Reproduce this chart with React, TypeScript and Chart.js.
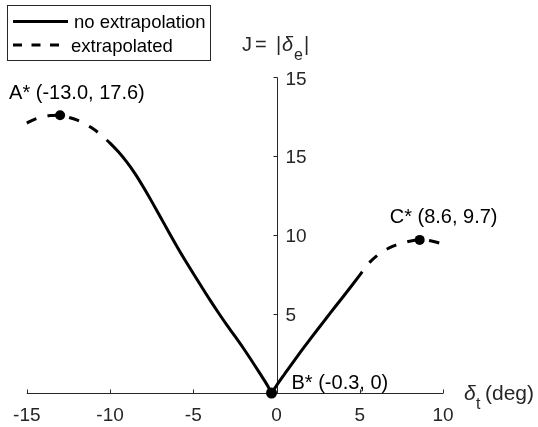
import React, { useEffect, useRef } from 'react';
import { Chart, registerables } from 'chart.js';

Chart.register(...registerables);

// ---- data ----
const leftDashX = [-15, -14.5, -14, -13.5, -13, -12.5, -12, -11.5, -11, -10.5, -10.2];
const leftDashY = [17.1, 17.35, 17.52, 17.58, 17.6, 17.47, 17.3, 17.05, 16.72, 16.32, 16.03];
const leftSolidX = [-10.2, -10, -9.5, -9, -8.5, -8, -7.5, -7, -6.5, -6, -5.5, -5, -4.5, -4, -3.5, -3, -2.5, -2, -1.5, -1, -0.5, -0.3];
const leftSolidY = [16.03, 15.83, 15.28, 14.64, 13.9, 13.05, 12.14, 11.2, 10.25, 9.32, 8.43, 7.57, 6.73, 5.9, 5.1, 4.33, 3.6, 2.85, 2.06, 1.24, 0.4, 0];
const rightSolidX = [-0.3, 0, 0.5, 1, 1.5, 2, 2.5, 3, 3.5, 4, 4.5, 5, 5.15];
const rightSolidY = [0, 0.47, 1.22, 1.96, 2.68, 3.38, 4.07, 4.75, 5.43, 6.1, 6.78, 7.47, 7.68];
const rightDashX = [5.15, 5.5, 6, 6.5, 7, 7.5, 8, 8.6, 9, 9.5, 10];
const rightDashY = [7.68, 8.17, 8.67, 9.03, 9.3, 9.5, 9.62, 9.7, 9.68, 9.58, 9.43];

const pointX = [-13.0, -0.3, 8.6];
const pointY = [17.6, 0, 9.7];
const pointLabels = ['A* (-13.0, 17.6)', 'B* (-0.3, 0)', 'C* (8.6, 9.7)'];

const xTicks = [-15, -10, -5, 0, 5, 10];
const xTickLabels = ['-15', '-10', '-5', '0', '5', '10'];
const yTickValues = [5, 10, 15, 20];
const yTickLabels = ['5', '10', '15', '15'];

const legendLabels = ['no extrapolation', 'extrapolated'];

const FONT = '"Liberation Sans", Arial, Helvetica, sans-serif';
const AX = '#262626';

const toXY = (xs: number[], ys: number[]) => xs.map((v, i) => ({ x: v, y: ys[i] }));

const customPlugin = {
  id: 'customAxesAndText',
  beforeDatasetsDraw(chart: any) {
    const { ctx } = chart;
    const xs = chart.scales.x;
    const ys = chart.scales.y;
    const y0 = Math.round(ys.getPixelForValue(0)) + 0.5;
    const x0 = Math.round(xs.getPixelForValue(0)) + 0.5;
    ctx.save();
    ctx.strokeStyle = AX;
    ctx.lineWidth = 1;
    ctx.beginPath();
    ctx.moveTo(xs.getPixelForValue(xTicks[0]), y0);
    ctx.lineTo(xs.getPixelForValue(xTicks[xTicks.length - 1]), y0);
    xTicks.forEach((t) => {
      const px = Math.round(xs.getPixelForValue(t)) + 0.5;
      ctx.moveTo(px, y0);
      ctx.lineTo(px, y0 - 4);
    });
    const yTop = Math.round(ys.getPixelForValue(yTickValues[yTickValues.length - 1])) + 0.5;
    ctx.moveTo(x0, y0);
    ctx.lineTo(x0, yTop);
    yTickValues.forEach((t) => {
      const py = Math.round(ys.getPixelForValue(t)) + 0.5;
      ctx.moveTo(x0, py);
      ctx.lineTo(x0 - 4, py);
    });
    ctx.stroke();

    ctx.fillStyle = AX;
    ctx.font = `19px ${FONT}`;
    ctx.textAlign = 'center';
    ctx.textBaseline = 'middle';
    xTicks.forEach((t, i) => {
      ctx.fillText(xTickLabels[i], xs.getPixelForValue(t), y0 + 22);
    });
    ctx.textAlign = 'left';
    yTickValues.forEach((t, i) => {
      ctx.fillText(yTickLabels[i], x0 + 8, ys.getPixelForValue(t) + 2);
    });
    ctx.restore();
  },
  afterDraw(chart: any) {
    const { ctx } = chart;
    const xs = chart.scales.x;
    const ys = chart.scales.y;
    ctx.save();
    ctx.fillStyle = '#000';
    ctx.textBaseline = 'middle';
    ctx.textAlign = 'left';
    ctx.font = `20px ${FONT}`;
    const offs = [
      [-51, -22],
      [20, -10],
      [-30, -22],
    ];
    pointX.forEach((px, i) => {
      const X = xs.getPixelForValue(px);
      const Y = ys.getPixelForValue(pointY[i]);
      ctx.fillText(pointLabels[i], X + offs[i][0], Y + offs[i][1]);
    });

    // y label: J = |δ_e|
    ctx.fillStyle = AX;
    ctx.textBaseline = 'alphabetic';
    const by = 51;
    ctx.font = `20px ${FONT}`;
    ctx.fillText('J', 242, by);
    ctx.fillText('=', 255, by);
    ctx.fillText('|', 276, by);
    ctx.font = `italic 20px ${FONT}`;
    ctx.fillText('\u03b4', 282, by);
    ctx.font = `16px ${FONT}`;
    ctx.fillText('e', 294, by + 9);
    ctx.font = `20px ${FONT}`;
    ctx.fillText('|', 304, by);

    // x label: δ_t (deg)
    const xlY = ys.getPixelForValue(0) + 7;
    ctx.font = `italic 21px ${FONT}`;
    ctx.fillText('\u03b4', 464, xlY);
    ctx.font = `16px ${FONT}`;
    ctx.fillText('t', 476, xlY + 9);
    ctx.font = `21px ${FONT}`;
    ctx.fillText('(deg)', 485, xlY);

    // legend box
    ctx.strokeStyle = AX;
    ctx.lineWidth = 1;
    ctx.fillStyle = '#fff';
    ctx.fillRect(7.5, 5.5, 203, 55);
    ctx.strokeRect(7.5, 5.5, 203, 55);
    ctx.strokeStyle = '#000';
    ctx.lineWidth = 3;
    ctx.beginPath();
    ctx.moveTo(13, 21.5);
    ctx.lineTo(68, 21.5);
    ctx.stroke();
    ctx.setLineDash([9, 9.5]);
    ctx.beginPath();
    ctx.moveTo(13, 45);
    ctx.lineTo(68, 45);
    ctx.stroke();
    ctx.setLineDash([]);
    ctx.fillStyle = '#000';
    ctx.textBaseline = 'middle';
    ctx.font = `18.5px ${FONT}`;
    ctx.fillText(legendLabels[0], 74, 23);
    ctx.fillText(legendLabels[1], 71, 46.5);
    ctx.restore();
  },
};

export default function App() {
  const canvasRef = useRef<HTMLCanvasElement | null>(null);

  useEffect(() => {
    const canvas = canvasRef.current;
    if (!canvas) return;
    const lineBase = {
      showLine: true,
      borderColor: '#000',
      borderWidth: 3,
      pointRadius: 0,
      pointHoverRadius: 0,
      fill: false,
      clip: false as any,
      cubicInterpolationMode: 'monotone' as const,
    };
    const chart = new Chart(canvas, {
      type: 'scatter',
      data: {
        datasets: [
          { ...lineBase, data: toXY(leftDashX, leftDashY), borderDash: [10.5, 11.5] },
          { ...lineBase, data: toXY(leftSolidX, leftSolidY) },
          { ...lineBase, data: toXY(rightSolidX, rightSolidY) },
          { ...lineBase, data: toXY(rightDashX, rightDashY), borderDash: [10.5, 11.5], borderDashOffset: 10.5 },
          {
            data: toXY(pointX, pointY),
            showLine: false,
            pointRadius: [5, 5.5, 5],
            pointBackgroundColor: '#000',
            pointBorderColor: '#000',
            pointBorderWidth: 0,
            clip: false as any,
          },
        ],
      },
      options: {
        responsive: false,
        animation: false,
        devicePixelRatio: 1,
        layout: { padding: { left: 26.8, right: 95, top: 77.3, bottom: 34 } },
        plugins: { legend: { display: false }, tooltip: { enabled: false }, title: { display: false } },
        events: [],
        scales: {
          x: { type: 'linear', min: -15, max: 10, display: false },
          y: { type: 'linear', min: 0, max: 20, display: false },
        },
      },
      plugins: [customPlugin],
    });
    return () => chart.destroy();
  }, []);

  return (
    <div style={{ position: 'absolute', left: 0, top: 0, width: 538, height: 427, background: '#fff' }}>
      <canvas ref={canvasRef} width={538} height={427} style={{ display: 'block' }} />
    </div>
  );
}
